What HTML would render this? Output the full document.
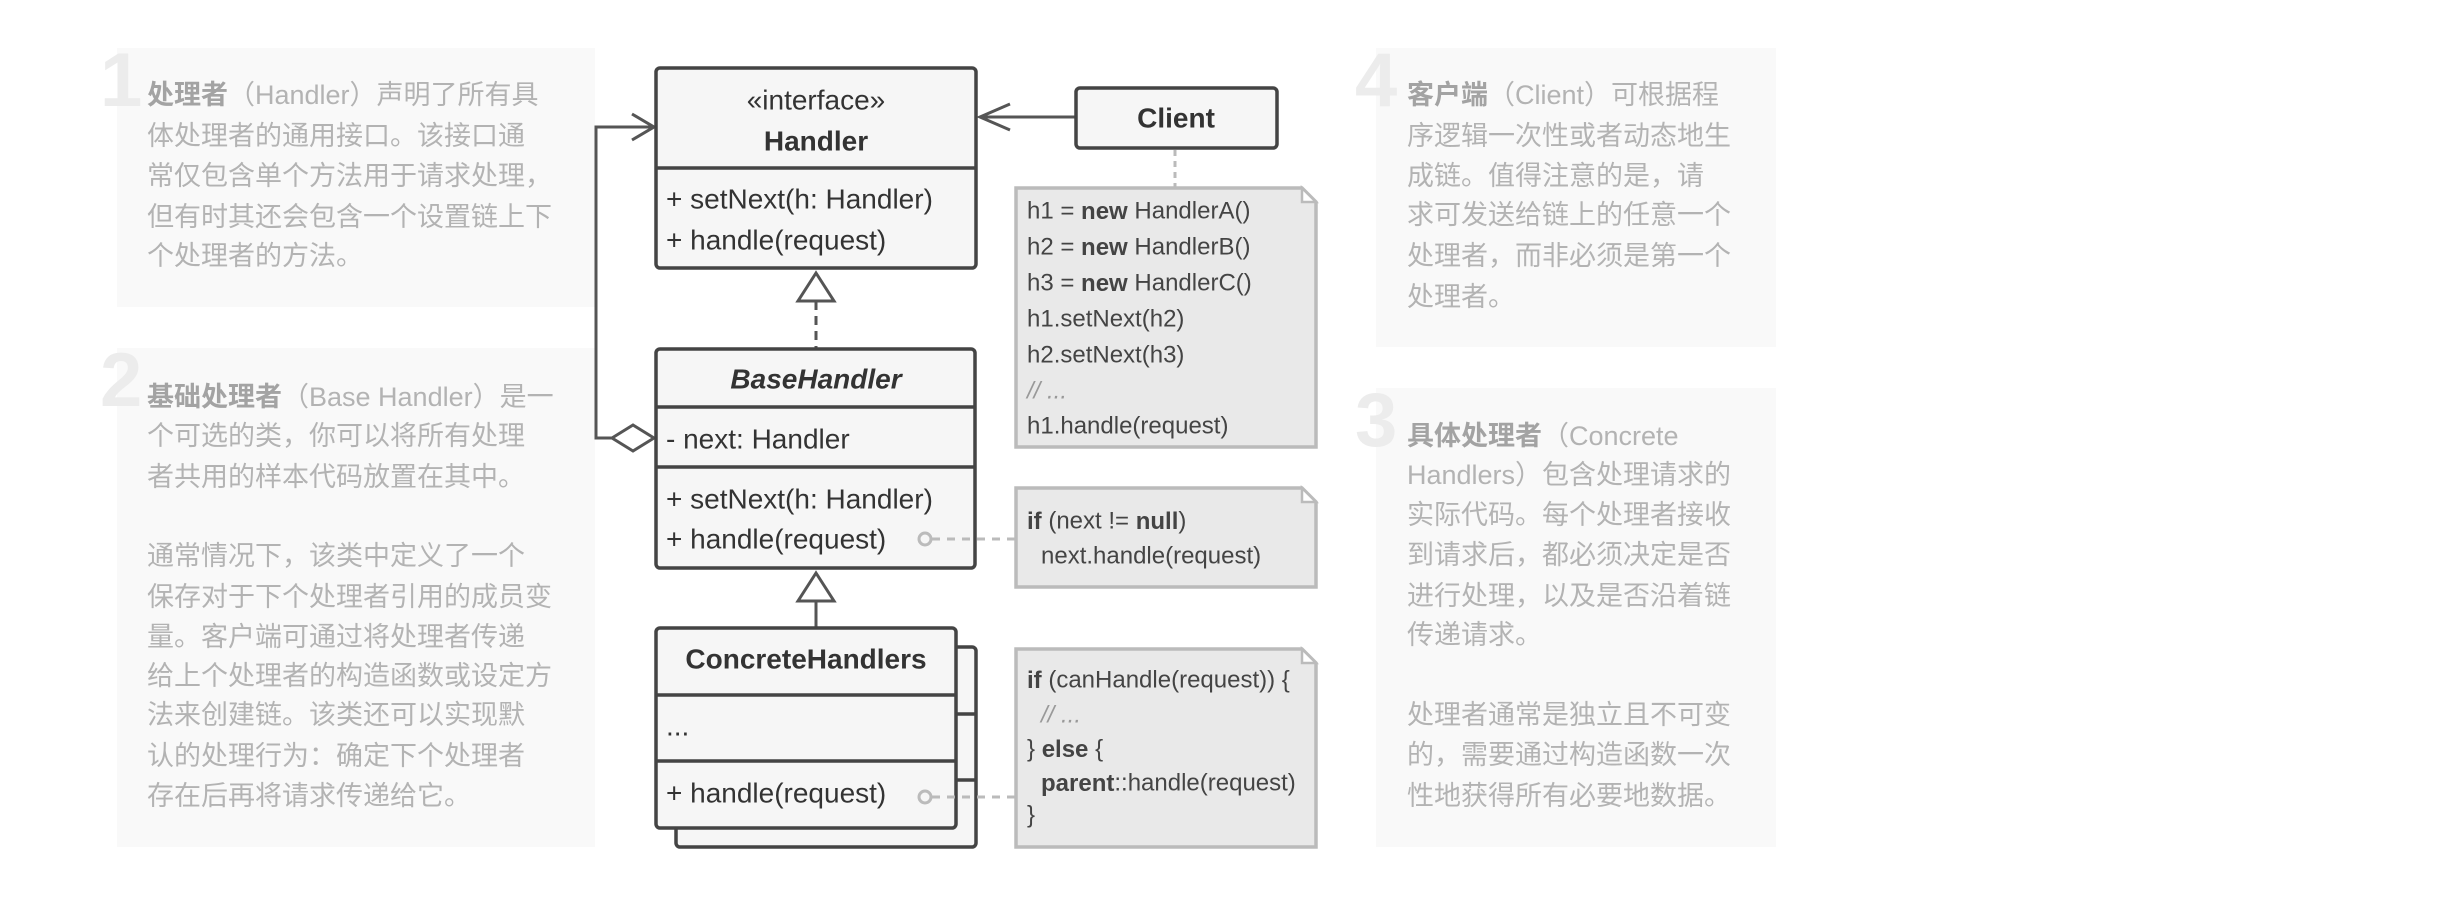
<!DOCTYPE html>
<html><head><meta charset="utf-8"><style>
html,body{margin:0;padding:0;background:#fff;}
svg{display:block;}
.p{font-family:"Liberation Sans","Noto Sans CJK SC",sans-serif;font-size:27px;fill:#b3b3b3;}
.pb{font-weight:bold;fill:#a3a3a3;}
.num{font-family:"Liberation Sans",sans-serif;font-weight:bold;font-size:76px;fill:#ececec;}
.u{font-family:"Liberation Sans",sans-serif;font-size:28px;fill:#333;}
.n{font-family:"Liberation Sans",sans-serif;font-size:24px;fill:#444;}
.c{fill:#999;font-style:italic;}
</style></head><body>
<svg width="2444" height="918" viewBox="0 0 2444 918" xmlns="http://www.w3.org/2000/svg">
<rect x="117" y="48" width="478" height="259" fill="#f9f9f9"/>
<rect x="117" y="348" width="478" height="499" fill="#f9f9f9"/>
<rect x="1376" y="48" width="400" height="299" fill="#f9f9f9"/>
<rect x="1376" y="388" width="400" height="459" fill="#f9f9f9"/>
<text class="num" x="100" y="106">1</text>
<text class="num" x="100" y="406">2</text>
<text class="num" x="1355" y="106">4</text>
<text class="num" x="1355" y="446">3</text>
<g class="p" dominant-baseline="central">
<text x="147" y="95"><tspan class="pb">处理者</tspan>（Handler）声明了所有具</text>
<text x="147" y="136">体处理者的通用接口。该接口通</text>
<text x="147" y="176">常仅包含单个方法用于请求处理，</text>
<text x="147" y="217">但有时其还会包含一个设置链上下</text>
<text x="147" y="256">个处理者的方法。</text>
<text x="147" y="397"><tspan class="pb">基础处理者</tspan>（Base Handler）是一</text>
<text x="147" y="436">个可选的类，你可以将所有处理</text>
<text x="147" y="477">者共用的样本代码放置在其中。</text>
<text x="147" y="556">通常情况下，该类中定义了一个</text>
<text x="147" y="597">保存对于下个处理者引用的成员变</text>
<text x="147" y="637">量。客户端可通过将处理者传递</text>
<text x="147" y="676">给上个处理者的构造函数或设定方</text>
<text x="147" y="715">法来创建链。该类还可以实现默</text>
<text x="147" y="756">认的处理行为：确定下个处理者</text>
<text x="147" y="796">存在后再将请求传递给它。</text>
<text x="1407" y="95"><tspan class="pb">客户端</tspan>（Client）可根据程</text>
<text x="1407" y="136">序逻辑一次性或者动态地生</text>
<text x="1407" y="176">成链。值得注意的是，请</text>
<text x="1407" y="215">求可发送给链上的任意一个</text>
<text x="1407" y="256">处理者，而非必须是第一个</text>
<text x="1407" y="297">处理者。</text>
<text x="1407" y="436"><tspan class="pb">具体处理者</tspan>（Concrete</text>
<text x="1407" y="475">Handlers）包含处理请求的</text>
<text x="1407" y="515">实际代码。每个处理者接收</text>
<text x="1407" y="555">到请求后，都必须决定是否</text>
<text x="1407" y="596">进行处理，以及是否沿着链</text>
<text x="1407" y="635">传递请求。</text>
<text x="1407" y="715">处理者通常是独立且不可变</text>
<text x="1407" y="755">的，需要通过构造函数一次</text>
<text x="1407" y="796">性地获得所有必要地数据。</text>
</g>

<polyline points="612,438 596,438 596,127 652,127" fill="none" stroke="#555" stroke-width="3"/>
<polyline points="632,114 654,127 632,140" fill="none" stroke="#555" stroke-width="3"/>
<polygon points="612,438 633,425 654,438 633,451" fill="#fff" stroke="#555" stroke-width="3"/>

<line x1="980" y1="117" x2="1075" y2="117" stroke="#555" stroke-width="3"/>
<polyline points="1010,104 980,117 1010,130" fill="none" stroke="#555" stroke-width="3"/>
<line x1="1175" y1="150" x2="1175" y2="187" stroke="#bbb" stroke-width="3" stroke-dasharray="6,5"/>

<rect x="656" y="68" width="320" height="200" rx="4" fill="#f6f6f6" stroke="#444" stroke-width="3.5"/>
<line x1="656" y1="168" x2="976" y2="168" stroke="#444" stroke-width="3.5"/>
<g class="u" dominant-baseline="central">
<text x="816" y="100" text-anchor="middle">«interface»</text>
<text x="816" y="141" text-anchor="middle" font-weight="bold">Handler</text>
<text x="666" y="199">+ setNext(h: Handler)</text>
<text x="666" y="240">+ handle(request)</text>
</g>

<rect x="1076" y="88" width="201" height="60" rx="4" fill="#f6f6f6" stroke="#444" stroke-width="3.5"/>
<text class="u" x="1176" y="118" text-anchor="middle" dominant-baseline="central" font-weight="bold">Client</text>

<line x1="816" y1="301" x2="816" y2="348" stroke="#555" stroke-width="3" stroke-dasharray="9,6"/>
<polygon points="816,273 798,301 834,301" fill="#fff" stroke="#555" stroke-width="3"/>

<rect x="656" y="349" width="319" height="219" rx="4" fill="#f6f6f6" stroke="#444" stroke-width="3.5"/>
<line x1="656" y1="407" x2="975" y2="407" stroke="#444" stroke-width="3.5"/>
<line x1="656" y1="467" x2="975" y2="467" stroke="#444" stroke-width="3.5"/>
<g class="u" dominant-baseline="central">
<text x="816" y="379" text-anchor="middle" font-weight="bold" font-style="italic">BaseHandler</text>
<text x="666" y="439">- next: Handler</text>
<text x="666" y="499">+ setNext(h: Handler)</text>
<text x="666" y="539">+ handle(request)</text>
</g>

<line x1="816" y1="601" x2="816" y2="628" stroke="#555" stroke-width="3"/>
<polygon points="816,573 798,601 834,601" fill="#fff" stroke="#555" stroke-width="3"/>

<rect x="676" y="647" width="300" height="200" rx="4" fill="#f6f6f6" stroke="#444" stroke-width="3.5"/>
<line x1="956" y1="714" x2="976" y2="714" stroke="#444" stroke-width="3.5"/>
<line x1="956" y1="780" x2="976" y2="780" stroke="#444" stroke-width="3.5"/>
<rect x="656" y="628" width="300" height="200" rx="4" fill="#f6f6f6" stroke="#444" stroke-width="3.5"/>
<line x1="656" y1="695" x2="956" y2="695" stroke="#444" stroke-width="3.5"/>
<line x1="656" y1="761" x2="956" y2="761" stroke="#444" stroke-width="3.5"/>
<g class="u" dominant-baseline="central">
<text x="806" y="659" text-anchor="middle" font-weight="bold">ConcreteHandlers</text>
<text x="666" y="726">...</text>
<text x="666" y="793">+ handle(request)</text>
</g>

<circle cx="925" cy="539" r="6" fill="none" stroke="#bbb" stroke-width="3"/>
<line x1="932" y1="539" x2="1015" y2="539" stroke="#bbb" stroke-width="3" stroke-dasharray="8,7"/>
<circle cx="925" cy="797" r="6" fill="none" stroke="#bbb" stroke-width="3"/>
<line x1="932" y1="797" x2="1015" y2="797" stroke="#bbb" stroke-width="3" stroke-dasharray="8,7"/>

<g fill="#e9e9e9" stroke="#bbb" stroke-width="3.5">
<path d="M1016,188 H1302 L1316,202 V447 H1016 Z"/>
<path d="M1016,488 H1302 L1316,502 V587 H1016 Z"/>
<path d="M1016,649 H1302 L1316,663 V847 H1016 Z"/>
</g>
<g fill="#fff" stroke="#bbb" stroke-width="2.5">
<path d="M1302,188 V202 H1316 Z"/><path d="M1302,488 V502 H1316 Z"/><path d="M1302,649 V663 H1316 Z"/>
</g>
<g class="n" dominant-baseline="central">
<text x="1027" y="211">h1 = <tspan font-weight="bold">new</tspan> HandlerA()</text>
<text x="1027" y="247">h2 = <tspan font-weight="bold">new</tspan> HandlerB()</text>
<text x="1027" y="283">h3 = <tspan font-weight="bold">new</tspan> HandlerC()</text>
<text x="1027" y="319">h1.setNext(h2)</text>
<text x="1027" y="355">h2.setNext(h3)</text>
<text x="1027" y="391" class="c">// ...</text>
<text x="1027" y="426">h1.handle(request)</text>
<text x="1027" y="521"><tspan font-weight="bold">if</tspan> (next != <tspan font-weight="bold">null</tspan>)</text>
<text x="1041" y="556">next.handle(request)</text>
<text x="1027" y="680"><tspan font-weight="bold">if</tspan> (canHandle(request)) {</text>
<text x="1041" y="715" class="c">// ...</text>
<text x="1027" y="749">} <tspan font-weight="bold">else</tspan> {</text>
<text x="1041" y="783"><tspan font-weight="bold">parent</tspan>::handle(request)</text>
<text x="1027" y="815">}</text>
</g>
</svg>
</body></html>
